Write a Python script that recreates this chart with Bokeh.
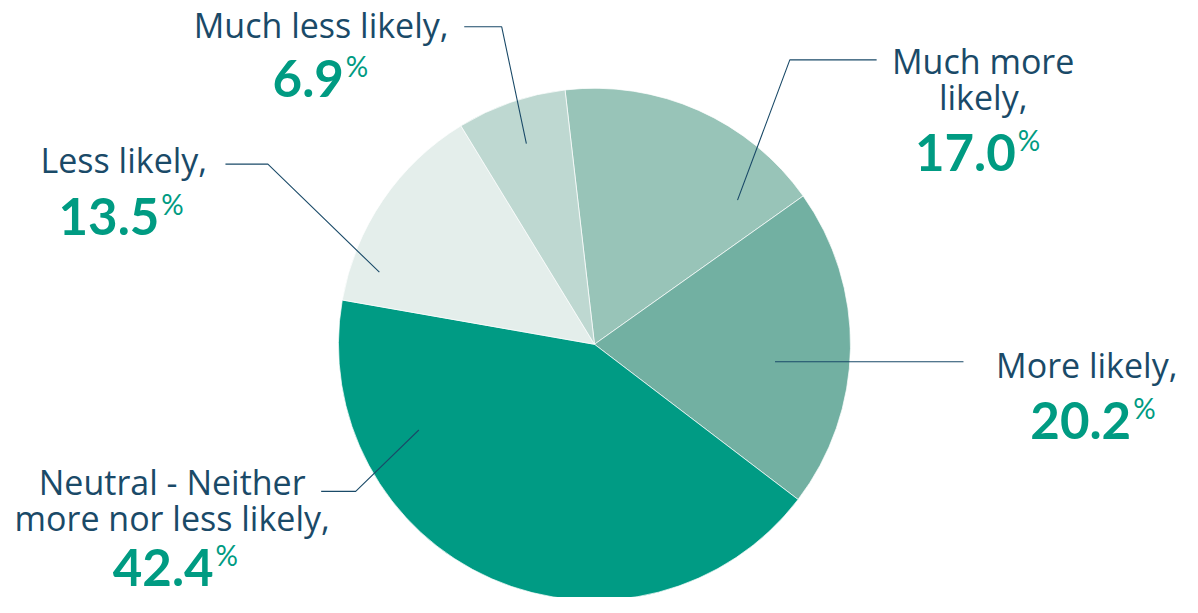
import math
from bokeh.plotting import figure
from bokeh.models import Range1d
from bokeh.core.properties import value
from bokeh.embed import file_html
from bokeh.resources import INLINE

# ---------------- data ----------------
categories = ["Much more likely", "More likely",
              "Neutral - Neither more nor less likely", "Less likely",
              "Much less likely"]
values = [17.0, 20.2, 42.4, 13.5, 6.9]
label_lines = [["Much more", "likely,"], ["More likely,"],
               ["Neutral - Neither", "more nor less likely,"], ["Less likely,"],
               ["Much less likely,"]]
colors = ["#98C4B8", "#72B0A2", "#009B84", "#E4EEEB", "#BED8D1"]

# ---------------- layout (reference picture coords; y measured downward) ----------------
W, H = 1182, 597
REF_W, REF_H = 1198, 613
CX, CY, R = 602, 353, 259.5
START_OFFSET = 6.6  # degrees counter-clockwise from 12 o'clock where first slice begins

# text anchors: (center x, first line baseline y, line step, number baseline y, number right x)
label_pos = [
    (996, 76, 37, 175, 1029),
    (1101, 389, 37, 450, 1146),
    (174, 509, 37, 601, 216),
    (125, 178, 37, 240, 161),
    (325, 40, 37, 99, 348),
]
leaders = [
    [(888, 61), (800, 61), (747, 205)],
    [(976, 371), (785, 371)],
    [(325, 504), (360, 504), (424, 441)],
    [(228, 168), (271, 168), (384, 279)],
    [(470, 27), (508, 27), (533, 147)],
]

NAVY = "#1A4A68"
TEAL = "#009B82"
LABEL_FONT = "Open Sans"
NUM_FONT = "Lato"
LABEL_SIZE, NUM_SIZE, PCT_SIZE = 34, 51, 28
# baseline corrections (screen px) for the renderer's alphabetic placement
LABEL_DY, NUM_DY, PCT_DY = -14, -18, -10


def fy(y):
    return REF_H - y


p = figure(width=W, height=H, output_backend="svg", toolbar_location=None,
           x_range=Range1d(0, REF_W), y_range=Range1d(0, REF_H),
           x_axis_type=None, y_axis_type=None, min_border=0)
p.grid.visible = False
p.outline_line_color = None
p.background_fill_color = "white"

# wedges, clockwise from top
total = sum(values)
ang = math.radians(90 + START_OFFSET)
starts, ends = [], []
for v in values:
    a2 = ang - math.radians(v / total * 360.0)
    starts.append(a2)
    ends.append(ang)
    ang = a2

p.wedge(x=[CX] * len(values), y=[fy(CY)] * len(values), radius=R,
        start_angle=starts, end_angle=ends, fill_color=colors,
        line_color="white", line_width=1, line_alpha=0.7)

# leader lines
for pts in leaders:
    p.line([q[0] for q in pts], [fy(q[1]) for q in pts], line_color=NAVY, line_width=1.1)

# labels
for lines, v, (lx, ly, step, ny, nx) in zip(label_lines, values, label_pos):
    p.text(x=[lx] * len(lines), y=[fy(ly + i * step) for i in range(len(lines))],
           text=lines, text_font=value(LABEL_FONT), text_font_size=f"{LABEL_SIZE}px",
           text_color=NAVY, text_align="center", text_baseline="alphabetic",
           y_offset=LABEL_DY)
    p.text(x=[nx], y=[fy(ny)], text=[f"{v:.1f}"], text_font=value(NUM_FONT),
           text_font_size=f"{NUM_SIZE}px", text_font_style="bold", text_color=TEAL,
           text_align="right", text_baseline="alphabetic", y_offset=NUM_DY)
    p.text(x=[nx + 2], y=[fy(ny - 21)], text=["%"], text_font=value(NUM_FONT),
           text_font_size=f"{PCT_SIZE}px", text_color=TEAL,
           text_align="left", text_baseline="alphabetic", y_offset=PCT_DY)

open("out.html", "w").write(file_html(p, INLINE))
